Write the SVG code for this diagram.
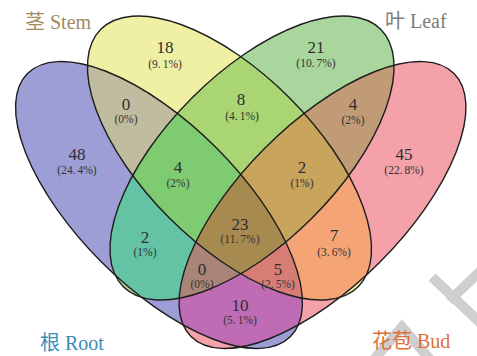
<svg xmlns="http://www.w3.org/2000/svg" xmlns:xlink="http://www.w3.org/1999/xlink" width="477" height="356" viewBox="0 0 477 356">
<style>
.outline{fill:none;stroke:#1e1e1e;stroke-width:1.4}
.cnt{font-family:"Liberation Serif","Times New Roman",serif;font-size:17px;fill:#2e2e2e;text-anchor:middle}
.pct{font-family:"Liberation Serif","Times New Roman",serif;font-size:11.5px;fill:#333;text-anchor:middle}
.set{font-family:"Liberation Serif","Noto Sans CJK SC",serif;font-size:20px}
.wm{fill:none;stroke:#cfcfcf;stroke-width:10}
</style>
<defs>
<ellipse id="eR" cx="0" cy="0" rx="186" ry="81" transform="translate(159 205) rotate(45)"/>
<ellipse id="eB" cx="0" cy="0" rx="186" ry="81" transform="translate(322.5 205) rotate(-45)"/>
<ellipse id="eS" cx="0" cy="0" rx="182" ry="85" transform="translate(229.5 158) rotate(45)"/>
<ellipse id="eL" cx="0" cy="0" rx="182" ry="85" transform="translate(252 158) rotate(-45)"/>
<clipPath id="cR"><use href="#eR"/></clipPath>
<clipPath id="cS"><use href="#eS"/></clipPath>
<clipPath id="cL"><use href="#eL"/></clipPath>
<clipPath id="cB"><use href="#eB"/></clipPath>
</defs>
<rect width="477" height="356" fill="#ffffff"/>
<g id="regions">
<use href="#eR" fill="#9D9ED5"/>
<use href="#eS" fill="#EFF0A4"/>
<use href="#eL" fill="#A8D69C"/>
<use href="#eB" fill="#F4A1A9"/>
<g clip-path="url(#cR)"><use href="#eS" fill="#C0BCA0"/></g>
<g clip-path="url(#cR)"><use href="#eL" fill="#64C3A5"/></g>
<g clip-path="url(#cR)"><use href="#eB" fill="#BF6CB5"/></g>
<g clip-path="url(#cS)"><use href="#eL" fill="#A9D672"/></g>
<g clip-path="url(#cS)"><use href="#eB" fill="#F5A575"/></g>
<g clip-path="url(#cL)"><use href="#eB" fill="#C19A76"/></g>
<g clip-path="url(#cR)"><g clip-path="url(#cS)"><use href="#eL" fill="#7ECB72"/></g></g>
<g clip-path="url(#cR)"><g clip-path="url(#cS)"><use href="#eB" fill="#D77D76"/></g></g>
<g clip-path="url(#cR)"><g clip-path="url(#cL)"><use href="#eB" fill="#A98578"/></g></g>
<g clip-path="url(#cS)"><g clip-path="url(#cL)"><use href="#eB" fill="#C8A45C"/></g></g>
<g clip-path="url(#cR)"><g clip-path="url(#cS)"><g clip-path="url(#cL)"><use href="#eB" fill="#A78A50"/></g></g></g>
</g>
<g id="watermark">
<line class="wm" x1="432" y1="277" x2="492" y2="334"/>
<line class="wm" x1="490" y1="262" x2="449" y2="301"/>
<polyline class="wm" stroke-width="8" stroke="#d6d6d6" points="370,364 402,327 434,364"/>
</g>
<g id="set-root"><use href="#eR" class="outline"/><text class="set" x="40" y="350" fill="#3A8DB8">根 Root</text></g>
<g id="set-stem"><use href="#eS" class="outline"/><text class="set" x="25" y="29" fill="#A08A5E">茎 Stem</text></g>
<g id="set-leaf"><use href="#eL" class="outline"/><text class="set" x="385" y="28" fill="#7d7d7d">叶 Leaf</text></g>
<g id="set-bud"><use href="#eB" class="outline"/><text class="set" x="372" y="348" fill="#DD6F3A">花苞 Bud</text></g>
<g id="counts">
<text class="cnt" x="165" y="53">18</text><text class="pct" x="165" y="68">(9.<tspan dx="2">1%)</tspan></text>
<text class="cnt" x="316" y="53">21</text><text class="pct" x="316" y="67">(10.<tspan dx="2">7%)</tspan></text>
<text class="cnt" x="126" y="110">0</text><text class="pct" x="126" y="123">(0%)</text>
<text class="cnt" x="241" y="105">8</text><text class="pct" x="242" y="120">(4.<tspan dx="2">1%)</tspan></text>
<text class="cnt" x="353" y="110">4</text><text class="pct" x="353" y="124">(2%)</text>
<text class="cnt" x="77" y="160">48</text><text class="pct" x="77" y="174">(24.<tspan dx="2">4%)</tspan></text>
<text class="cnt" x="404" y="160">45</text><text class="pct" x="404" y="174">(22.<tspan dx="2">8%)</tspan></text>
<text class="cnt" x="178" y="173">4</text><text class="pct" x="178" y="187">(2%)</text>
<text class="cnt" x="302" y="173">2</text><text class="pct" x="302" y="187">(1%)</text>
<text class="cnt" x="240" y="230">23</text><text class="pct" x="240" y="243">(11.<tspan dx="2">7%)</tspan></text>
<text class="cnt" x="145" y="243">2</text><text class="pct" x="145" y="256">(1%)</text>
<text class="cnt" x="334" y="241">7</text><text class="pct" x="334" y="256">(3.<tspan dx="2">6%)</tspan></text>
<text class="cnt" x="202" y="275">0</text><text class="pct" x="202" y="288">(0%)</text>
<text class="cnt" x="278" y="275">5</text><text class="pct" x="278" y="288">(2.<tspan dx="2">5%)</tspan></text>
<text class="cnt" x="240" y="311">10</text><text class="pct" x="240" y="324">(5.<tspan dx="2">1%)</tspan></text>
</g>
</svg>
